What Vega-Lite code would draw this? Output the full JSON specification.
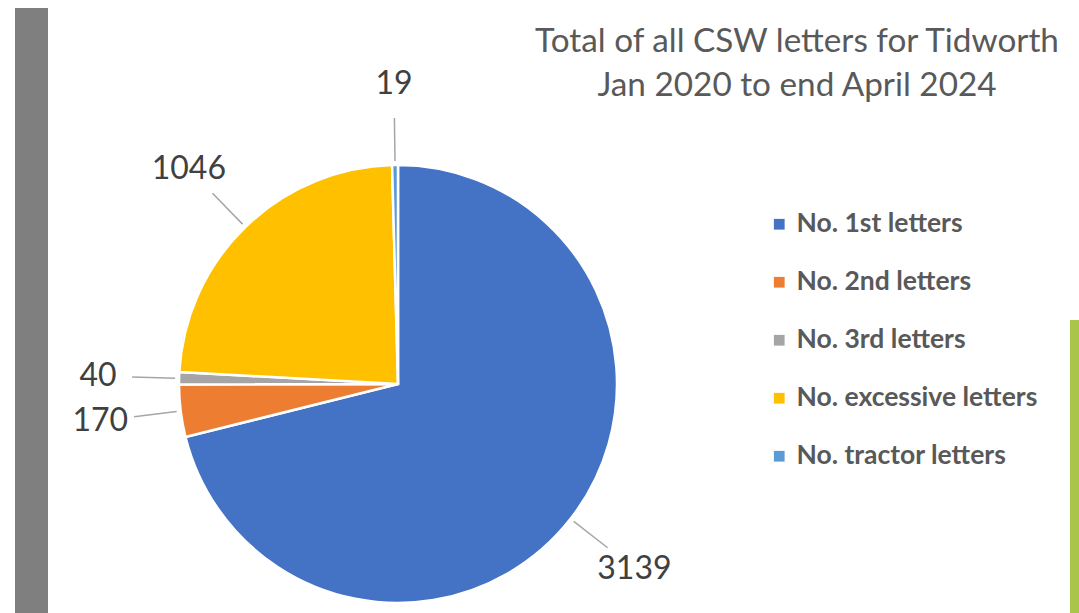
{
  "$schema": "https://vega.github.io/schema/vega-lite/v6.json",
  "padding": 0,
  "background": "white",
  "config": {"view": {"stroke": null}, "font": "Lato"},
  "spacing": 0,
  "hconcat": [
    {"data": {"values": []}, "mark": "point", "width": 15, "height": 613},
    {
      "vconcat": [
        {"data": {"values": []}, "mark": "point", "width": 33, "height": 8},
        {"data": {"values": []}, "mark": "point", "width": 33, "height": 605, "view": {"fill": "#7f7f7f"}}
      ],
      "spacing": 0
    },
    {
      "vconcat": [
        {"data": {"values": []}, "mark": "point", "width": 700, "height": 24},
        {
          "width": 700,
          "height": 460,
          "data": {
            "values": [
              {"cat": "No. 1st letters", "value": 3139},
              {"cat": "No. 2nd letters", "value": 170},
              {"cat": "No. 3rd letters", "value": 40},
              {"cat": "No. excessive letters", "value": 1046},
              {"cat": "No. tractor letters", "value": 19}
            ]
          },
          "title": {
            "text": ["Total of all CSW letters for Tidworth", "Jan 2020 to end April 2024"],
            "fontSize": 33.3,
            "font": "Lato",
            "fontWeight": "normal",
            "color": "#595959",
            "lineHeight": 44,
            "anchor": "middle",
            "frame": "group",
            "dx": 399,
            "offset": -35
          },
          "resolve": {"scale": {"theta": "independent"}},
          "encoding": {
            "theta": {"field": "value", "type": "quantitative", "stack": true},
            "order": {"field": "cat", "type": "ordinal", "sort": "ascending"}
          },
          "layer": [
            {
              "mark": {"type": "arc", "outerRadius": 219, "stroke": "white", "strokeWidth": 2.5},
              "encoding": {
                "color": {
                  "field": "cat",
                  "type": "nominal",
                  "scale": {
                    "domain": ["No. 1st letters", "No. 2nd letters", "No. 3rd letters", "No. excessive letters", "No. tractor letters"],
                    "range": ["#4472c4", "#ed7d31", "#a5a5a5", "#ffc000", "#5b9bd5"]
                  },
                  "legend": {
                    "title": null,
                    "orient": "none",
                    "legendX": 766,
                    "legendY": 211,
                    "symbolType": "square",
                    "symbolSize": 115,
                    "symbolStrokeWidth": 0,
                    "labelFontSize": 26.5,
                    "labelFont": "Lato",
                    "labelFontWeight": "bold",
                    "labelColor": "#595959",
                    "labelOffset": 4,
                    "labelLimit": 0,
                    "rowPadding": 31
                  }
                }
              }
            },
            {
              "mark": {"type": "arc", "innerRadius": 223, "outerRadius": 266, "padAngle": 3, "fillOpacity": 0, "strokeWidth": 1.5},
              "encoding": {
                "detail": {"field": "cat", "type": "nominal"},
                "stroke": {
                  "condition": {"test": "datum.cat === 'No. 1st letters'", "value": "transparent"},
                  "value": "#a6a6a6"
                }
              }
            },
            {
              "transform": [{"filter": "datum.cat === 'No. 1st letters'"}],
              "mark": {"type": "arc", "innerRadius": 223, "outerRadius": 266, "padAngle": 3, "fillOpacity": 0, "stroke": "#a6a6a6", "strokeWidth": 1.5},
              "encoding": {
                "theta": {"field": "value", "type": "quantitative", "stack": true, "scale": {"range": [1.536, 2.932]}}
              }
            },
            {
              "mark": {"type": "text", "radius": 300, "fontSize": 32, "font": "Lato", "fill": "#404040"},
              "encoding": {
                "text": {"field": "value", "type": "quantitative", "format": "d"},
                "detail": {"field": "cat", "type": "nominal"}
              }
            }
          ]
        }
      ],
      "spacing": 0
    },
    {"data": {"values": []}, "mark": "point", "width": 9, "height": 613},
    {
      "vconcat": [
        {"data": {"values": []}, "mark": "point", "width": 13, "height": 320},
        {"data": {"values": []}, "mark": "point", "width": 13, "height": 293, "view": {"fill": "#a9c64a"}}
      ],
      "spacing": 0
    }
  ]
}
